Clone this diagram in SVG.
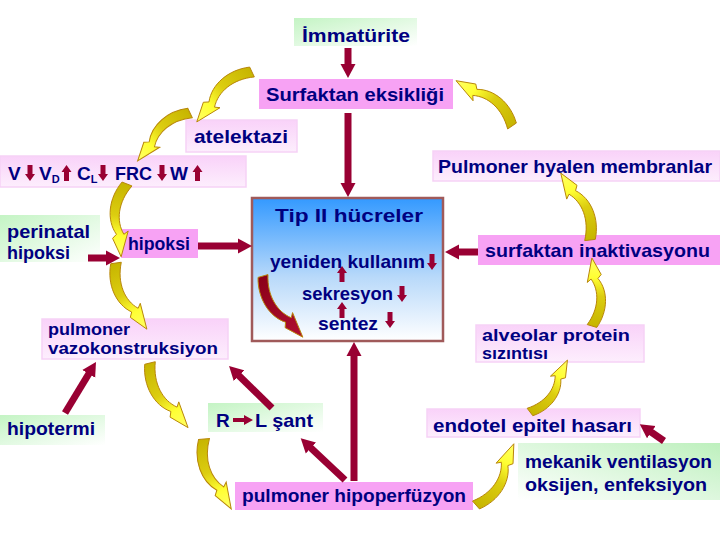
<svg xmlns="http://www.w3.org/2000/svg" xmlns:xlink="http://www.w3.org/1999/xlink" width="720" height="540" viewBox="0 0 720 540">
<style>
.t{font-family:"Liberation Sans",Arial,sans-serif;font-weight:bold;font-size:19px;fill:#000080}
.t2{font-size:16px}
.sub{font-size:11px}
.ar{stroke:#990033;stroke-width:7;fill:none;marker-end:url(#ah)}
.sm{fill:#990033}
.pk{fill:#F7A2F4}
.lp{fill:url(#lpg);stroke:#F6D2F6;stroke-width:1.5}
.gr{fill:url(#grg)}
.yl{fill:url(#yel)}
</style>
<defs>
<linearGradient id="yel" x1="0" y1="0" x2="0" y2="1">
<stop offset="0" stop-color="#C6B400"/><stop offset="0.45" stop-color="#DCCD10"/><stop offset="0.72" stop-color="#FFFF33"/><stop offset="1" stop-color="#FFFF66"/>
</linearGradient>
<linearGradient id="drg" x1="0" y1="0" x2="0" y2="1">
<stop offset="0" stop-color="#8A0018"/><stop offset="1" stop-color="#B01030"/>
</linearGradient>
<linearGradient id="lpg" x1="0" y1="0" x2="0" y2="1">
<stop offset="0" stop-color="#F9D2F9"/><stop offset="1" stop-color="#FDEEFD"/>
</linearGradient>
<linearGradient id="grg" x1="0" y1="0" x2="1" y2="1">
<stop offset="0" stop-color="#C4F4C4"/><stop offset="1" stop-color="#FFFFFF"/>
</linearGradient>
<linearGradient id="grg2" x1="1" y1="0" x2="0" y2="1">
<stop offset="0" stop-color="#BDF0BD"/><stop offset="1" stop-color="#FFFFFF"/>
</linearGradient>
<linearGradient id="blu" x1="0" y1="0" x2="0" y2="1">
<stop offset="0" stop-color="#3399FF"/><stop offset="0.55" stop-color="#B8D9FA"/><stop offset="1" stop-color="#FFFFFF"/>
</linearGradient>
<marker id="ah" markerUnits="userSpaceOnUse" markerWidth="16" markerHeight="16" refX="4" refY="8" orient="auto" viewBox="0 0 16 16">
<path d="M0 0.5L14 8L0 15.5Z" fill="#990033"/>
</marker>
<path id="sw" d="M-9 -2C-30 22 -30 52 -10 70L-16 76L2 100L10 64L3 69C-13 52 -13 26 9 2Z" stroke="#B8860B" stroke-width="1" vector-effect="non-scaling-stroke"/>
<path id="dn" d="M-2.5 0H2.5V9H5L0 16L-5 9H-2.5Z"/>
<path id="up" d="M-2.5 16H2.5V7H5L0 0L-5 7H-2.5Z"/>
</defs>
<rect width="720" height="540" fill="#FFFFFF"/>

<g id="immaturite">
<rect x="294" y="18" width="123" height="28" fill="url(#grg)"/>
<text class="t" x="302" y="42" textLength="108" lengthAdjust="spacingAndGlyphs">İmmatürite</text>
</g>
<g id="surfaktan-eksikligi">
<rect x="259" y="79" width="194" height="30" class="pk"/>
<text class="t" x="266" y="101" textLength="178" lengthAdjust="spacingAndGlyphs">Surfaktan eksikliği</text>
</g>
<g id="atelektazi">
<rect x="186" y="120" width="111" height="32" class="lp"/>
<text class="t" x="194" y="143" textLength="94" lengthAdjust="spacingAndGlyphs">atelektazi</text>
</g>
<g id="vrow">
<rect x="0" y="156" width="246" height="31" class="lp"/>
<text class="t" x="8" y="180">V</text>
<use href="#dn" class="sm" x="30" y="165"/>
<text class="t" x="39" y="180">V<tspan class="sub" dy="3">D</tspan></text>
<use href="#up" class="sm" x="66.5" y="165"/>
<text class="t" x="77" y="180">C<tspan class="sub" dy="3">L</tspan></text>
<use href="#dn" class="sm" x="103" y="165"/>
<text class="t" x="115" y="180" textLength="37" lengthAdjust="spacingAndGlyphs">FRC</text>
<use href="#dn" class="sm" x="162" y="165"/>
<text class="t" x="170" y="180">W</text>
<use href="#up" class="sm" x="197.5" y="165"/>
</g>
<g id="hyalen">
<rect x="433" y="151" width="287" height="30" class="lp"/>
<text class="t" x="438" y="173" textLength="274" lengthAdjust="spacingAndGlyphs">Pulmoner hyalen membranlar</text>
</g>
<g id="tip2">
<rect x="252" y="198" width="191" height="143" fill="url(#blu)" stroke="#A05A5A" stroke-width="2.5"/>
<text class="t" x="275" y="222" textLength="148" lengthAdjust="spacingAndGlyphs">Tip II hücreler</text>
<text class="t" x="270" y="268" textLength="155" lengthAdjust="spacingAndGlyphs">yeniden kullanım</text>
<use href="#dn" class="sm" x="432" y="254"/>
<text class="t" x="302" y="300" textLength="91" lengthAdjust="spacingAndGlyphs">sekresyon</text>
<use href="#dn" class="sm" x="402" y="286"/>
<text class="t" x="318" y="330" textLength="60" lengthAdjust="spacingAndGlyphs">sentez</text>
<use href="#dn" class="sm" x="390" y="312"/>
<use href="#up" class="sm" x="342" y="266"/>
<use href="#up" class="sm" x="342" y="302"/>
<use href="#sw" fill="url(#drg)" transform="translate(263,276) rotate(-32.2) scale(0.55,0.73)"/>
</g>
<g id="perinatal">
<rect x="0" y="215" width="100" height="47" class="gr"/>
<text class="t" x="7" y="238" textLength="83" lengthAdjust="spacingAndGlyphs">perinatal</text>
<text class="t" x="7" y="259" textLength="63" lengthAdjust="spacingAndGlyphs">hipoksi</text>
</g>
<g id="hipoksi">
<rect x="121" y="229" width="77" height="29" class="pk"/>
<text class="t" x="128" y="250" textLength="62" lengthAdjust="spacingAndGlyphs">hipoksi</text>
</g>
<g id="surf-inakt">
<rect x="478" y="235" width="242" height="30" class="pk"/>
<text class="t" x="485" y="257" textLength="225" lengthAdjust="spacingAndGlyphs">surfaktan inaktivasyonu</text>
</g>
<g id="vazokonstr">
<rect x="42" y="319" width="186" height="40" class="lp"/>
<text class="t t2" x="48" y="335" textLength="82" lengthAdjust="spacingAndGlyphs">pulmoner</text>
<text class="t t2" x="48" y="354" textLength="170" lengthAdjust="spacingAndGlyphs">vazokonstruksiyon</text>
</g>
<g id="alveolar">
<rect x="476" y="325" width="168" height="37" class="lp"/>
<text class="t t2" x="482" y="341" textLength="148" lengthAdjust="spacingAndGlyphs">alveolar protein</text>
<text class="t t2" x="482" y="359" textLength="66" lengthAdjust="spacingAndGlyphs">sızıntısı</text>
</g>
<g id="hipotermi">
<rect x="0" y="415" width="105" height="30" class="gr"/>
<text class="t" x="7" y="435" textLength="88" lengthAdjust="spacingAndGlyphs">hipotermi</text>
</g>
<g id="rl-sant">
<rect x="208" y="403" width="115" height="29" class="gr"/>
<text class="t" x="216" y="427">R</text>
<path class="sm" d="M233 418H244V415L253 420L244 425V422H233Z"/>
<text class="t" x="255" y="427" textLength="58" lengthAdjust="spacingAndGlyphs">L şant</text>
</g>
<g id="endotel">
<rect x="427" y="409" width="213" height="28" class="lp"/>
<text class="t" x="433" y="432" textLength="199" lengthAdjust="spacingAndGlyphs">endotel epitel hasarı</text>
</g>
<g id="mekanik">
<rect x="518" y="443" width="202" height="57" fill="url(#grg2)"/>
<text class="t" x="525" y="468" textLength="187" lengthAdjust="spacingAndGlyphs">mekanik ventilasyon</text>
<text class="t" x="525" y="491" textLength="182" lengthAdjust="spacingAndGlyphs">oksijen, enfeksiyon</text>
</g>
<g id="hipoperfuzyon">
<rect x="235" y="482" width="238" height="28" class="pk"/>
<text class="t" x="242" y="502" textLength="224" lengthAdjust="spacingAndGlyphs">pulmoner hipoperfüzyon</text>
</g>

<g id="connectors">
<line class="ar" x1="348" y1="48" x2="348" y2="68"/>
<line class="ar" x1="348" y1="113" x2="348" y2="187"/>
<line class="ar" x1="88" y1="258" x2="110" y2="258"/>
<line class="ar" x1="198" y1="246" x2="242" y2="246"/>
<line class="ar" x1="478" y1="252" x2="455" y2="252"/>
<line class="ar" x1="65" y1="413" x2="90.8" y2="370.5"/>
<line class="ar" x1="272" y1="408" x2="236.2" y2="373"/>
<line class="ar" x1="345" y1="480" x2="308" y2="445.2"/>
<line class="ar" x1="354" y1="481" x2="354" y2="352"/>
<line class="ar" x1="664" y1="441" x2="648" y2="429.9"/>
<use href="#sw" class="yl" transform="translate(252,72) rotate(48.8) scale(0.58,0.744)"/>
<use href="#sw" class="yl" transform="translate(190,113) rotate(48.4) scale(0.55,0.71)"/>
<use href="#sw" class="yl" transform="translate(127,184) rotate(5.5) scale(0.57,0.73)"/>
<use href="#sw" class="yl" transform="translate(116,263) rotate(-24.1) scale(0.57,0.73)"/>
<use href="#sw" class="yl" transform="translate(150,363) rotate(-29.6) scale(0.58,0.75)"/>
<use href="#sw" class="yl" transform="translate(204,439) rotate(-20.4) scale(0.58,0.75)"/>
<use href="#sw" class="yl" transform="translate(476,505) rotate(-147.4) scale(0.56,0.72)"/>
<use href="#sw" class="yl" transform="translate(530,412) rotate(-143.3) scale(0.5,0.64)"/>
<use href="#sw" class="yl" transform="translate(592,326) rotate(-179.2) scale(0.53,0.68)"/>
<use href="#sw" class="yl" transform="translate(590,240) rotate(157.3) scale(0.57,0.73)"/>
<use href="#sw" class="yl" transform="translate(512,126) rotate(129.9) scale(0.56,0.72)"/>
</g>
</svg>
